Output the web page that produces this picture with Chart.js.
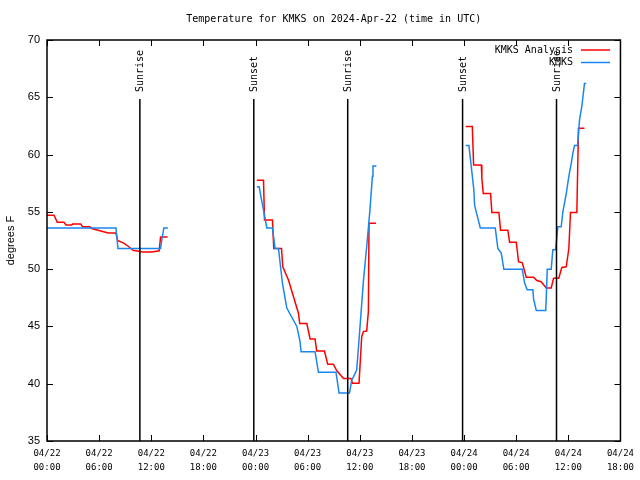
<!DOCTYPE html>
<html>
<head>
<meta charset="utf-8">
<script src="https://cdn.jsdelivr.net/npm/chart.js@4/dist/chart.umd.min.js"></script>
<style>
  html, body { margin: 0; padding: 0; background: #fff; }
  canvas { display: block; }
</style>
</head>
<body>
<canvas id="tempChart" width="640" height="480"></canvas>
<script>
// ─── Data (hours since 04/22 00:00 UTC, degrees F) ─────────────────────────────
const anaHours = [
  0.0, 0.8, 1.18, 1.95, 2.18, 2.84, 2.96, 3.87, 4.10, 4.94, 5.14, 6.09, 7.05, 7.93,
  8.13, 8.77, 9.35, 9.92, 11.0, 12.04, 12.91, 13.07, 13.88,
  19,
  24.15, 24.92, 25.03, 25.95, 26.10, 26.99, 27.14, 27.79, 28.94, 29.09, 29.90, 30.28,
  30.85, 31.04, 31.93, 32.31, 32.96, 33.34, 34.12, 34.99, 35.15, 35.91, 36.22, 36.41,
  36.79, 36.99, 37.06, 37.86,
  43,
  48.18, 48.95, 49.10, 49.99, 50.05, 50.21, 51.05, 51.20, 52.01, 52.20, 53.04, 53.24,
  54.01, 54.27, 54.70, 55.16, 56.00, 56.38, 56.88, 57.46, 58.03, 58.30, 58.90, 59.25,
  59.76, 60.06, 60.25, 60.98, 61.17, 61.86
];
const anaTemps = [
  54.7, 54.7, 54.1, 54.1, 53.85, 53.85, 53.95, 53.95, 53.7, 53.7, 53.55, 53.35, 53.15, 53.15,
  52.5, 52.3, 52.0, 51.65, 51.5, 51.5, 51.6, 52.8, 52.8,
  null,
  57.75, 57.75, 54.3, 54.3, 51.8, 51.8, 50.2, 49.05, 46.15, 45.25, 45.25, 43.9,
  43.9, 42.85, 42.85, 41.7, 41.7, 41.15, 40.45, 40.45, 40.05, 40.05, 44.1, 44.55,
  44.6, 46.3, 54.0, 54.0,
  null,
  62.45, 62.45, 59.1, 59.1, 57.9, 56.6, 56.6, 54.95, 54.95, 53.4, 53.4, 52.35,
  52.35, 50.65, 50.55, 49.3, 49.3, 49.0, 48.9, 48.35, 48.35, 49.2, 49.2, 50.15,
  50.2, 51.8, 54.95, 54.95, 62.3, 62.3
];

const obsHours = [
  0.0, 7.93, 8.05, 8.16, 13.07, 13.26, 13.45, 13.91,
  19,
  24.15, 24.41, 25.30, 25.95, 26.25, 26.64, 27.10, 27.60, 28.75, 29.12, 29.24, 30.85,
  31.24, 33.26, 33.61, 34.81, 35.07, 35.27, 35.64, 35.84, 36.42, 36.80, 37.17, 37.45,
  37.52, 37.91,
  43,
  48.18, 48.56, 48.75, 49.13, 49.21, 49.40, 49.87, 51.59, 51.89, 52.28, 52.58, 54.70,
  54.96, 55.27, 55.92, 56.00, 56.31, 57.40, 57.50, 57.57, 58.03, 58.22, 58.53, 58.68,
  58.79, 59.18, 59.37, 59.56, 59.76, 59.94, 60.13, 60.33, 60.52, 60.71, 61.06, 61.29,
  61.57, 61.86, 62.06
];
const obsTemps = [
  53.6, 53.6, 52.8, 51.8, 51.8, 52.8, 53.6, 53.6,
  null,
  57.2, 57.2, 53.6, 53.6, 51.8, 51.8, 48.75, 46.6, 45.0, 43.7, 42.8, 42.8,
  41.0, 41.0, 39.2, 39.2, 40.3, 40.6, 41.2, 43.1, 49.0, 52.0, 55.2, 58.1,
  59.0, 59.0,
  null,
  60.8, 60.8, 59.5, 56.9, 55.6, 55.0, 53.6, 53.6, 51.8, 51.4, 50.0, 50.0,
  48.8, 48.2, 48.2, 47.4, 46.4, 46.4, 48.3, 50.0, 50.0, 51.7, 51.7, 52.8,
  53.7, 53.7, 55.0, 55.75, 56.6, 57.5, 58.4, 59.2, 60.1, 60.8, 60.8, 63.0,
  64.3, 66.2, 66.2
];

const sunHours = [10.69, 23.80, 34.61, 47.83, 58.64];
const sunLabels = ['Sunrise', 'Sunset', 'Sunrise', 'Sunset', 'Sunrise'];

const tickDays = ['04/22', '04/23', '04/24'];
const tickTimes = ['00:00', '06:00', '12:00', '18:00'];

const seriesNames = ['KMKS Analysis', 'KMKS'];
const seriesColors = ['#ff0000', '#1a86f0'];

const MONO = '"DejaVu Sans Mono", "Liberation Mono", monospace';
const SANS = '"Liberation Sans", Arial, sans-serif';

const toPoints = (xs, ys) => xs.map((x, i) => ({ x: x, y: ys[i] }));

// ─── Frame, ticks, sun lines and legend ───────────────────────────────────────
const framePlugin = {
  id: 'frame',
  afterDatasetsDraw(chart) {
    const { ctx, chartArea: a, scales } = chart;
    const xs = scales.x, ys = scales.y;
    ctx.save();
    ctx.strokeStyle = '#000';
    ctx.lineWidth = 1;

    // tick marks, pointing inward on all four sides
    ctx.beginPath();
    for (let v = 35; v <= 70; v += 5) {
      const py = Math.round(ys.getPixelForValue(v)) + 0.5;
      ctx.moveTo(a.left, py); ctx.lineTo(a.left + 6, py);
      ctx.moveTo(a.right, py); ctx.lineTo(a.right - 6, py);
    }
    for (let h = 0; h <= 66; h += 6) {
      const px = Math.round(xs.getPixelForValue(h)) + 0.5;
      ctx.moveTo(px, a.bottom); ctx.lineTo(px, a.bottom - 6);
      ctx.moveTo(px, a.top); ctx.lineTo(px, a.top + 6);
    }
    ctx.stroke();

    // sunrise / sunset markers
    ctx.lineWidth = 1.5;
    ctx.fillStyle = '#000';
    ctx.font = '10px ' + MONO;
    sunHours.forEach((h, i) => {
      const px = xs.getPixelForValue(h);
      ctx.beginPath();
      ctx.moveTo(px, 99);
      ctx.lineTo(px, a.bottom);
      ctx.stroke();
      ctx.save();
      ctx.translate(px, 92);
      ctx.rotate(-Math.PI / 2);
      ctx.textAlign = 'left';
      ctx.textBaseline = 'middle';
      ctx.fillText(sunLabels[i], 0, 1);
      ctx.restore();
    });

    // border
    ctx.lineWidth = 1.5;
    ctx.strokeRect(a.left, a.top, a.right - a.left, a.bottom - a.top);

    // legend (top right, inside the plot)
    ctx.textAlign = 'right';
    ctx.textBaseline = 'middle';
    seriesNames.forEach((name, i) => {
      const y = 50 + i * 12.5;
      ctx.fillStyle = '#000';
      ctx.fillText(name, 573, y);
      ctx.strokeStyle = seriesColors[i];
      ctx.beginPath();
      ctx.moveTo(581, y);
      ctx.lineTo(610, y);
      ctx.stroke();
    });
    ctx.restore();
  }
};

// ─── Chart ─────────────────────────────────────────────────────────────────────
new Chart(document.getElementById('tempChart'), {
  type: 'line',
  data: {
    datasets: [
      {
        label: seriesNames[0],
        data: toPoints(anaHours, anaTemps),
        borderColor: seriesColors[0],
        borderWidth: 1.5,
        pointRadius: 0,
        tension: 0,
        order: 1
      },
      {
        label: seriesNames[1],
        data: toPoints(obsHours, obsTemps),
        borderColor: seriesColors[1],
        borderWidth: 1.5,
        pointRadius: 0,
        tension: 0,
        order: 0
      }
    ]
  },
  options: {
    responsive: false,
    animation: false,
    layout: { padding: { left: 0, right: 19, top: 0, bottom: 0 } },
    plugins: {
      legend: { display: false },
      tooltip: { enabled: false },
      title: {
        display: true,
        fullSize: false,
        text: 'Temperature for KMKS on 2024-Apr-22 (time in UTC)',
        color: '#000',
        font: { family: MONO, size: 10, weight: 'normal' },
        padding: { top: 13, bottom: 15 }
      }
    },
    scales: {
      x: {
        type: 'linear',
        min: 0,
        max: 66,
        grid: { display: false, drawTicks: false },
        border: { display: false },
        ticks: {
          stepSize: 6,
          autoSkip: false,
          maxRotation: 0,
          padding: 6,
          color: '#000',
          font: { family: MONO, size: 9, lineHeight: 1.55 },
          callback: v => [tickDays[Math.floor(v / 24)], tickTimes[(v % 24) / 6]]
        },
        afterFit: s => { s.height = 39; }
      },
      y: {
        min: 35,
        max: 70,
        grid: { display: false, drawTicks: false },
        border: { display: false },
        ticks: {
          stepSize: 5,
          padding: 7,
          color: '#000',
          font: { family: SANS, size: 11 }
        },
        title: {
          display: true,
          text: 'degrees F',
          color: '#000',
          font: { family: SANS, size: 11 },
          padding: { top: 4, bottom: 0 }
        },
        afterFit: s => { s.width = 47; }
      }
    }
  },
  plugins: [framePlugin]
});
</script>
</body>
</html>
